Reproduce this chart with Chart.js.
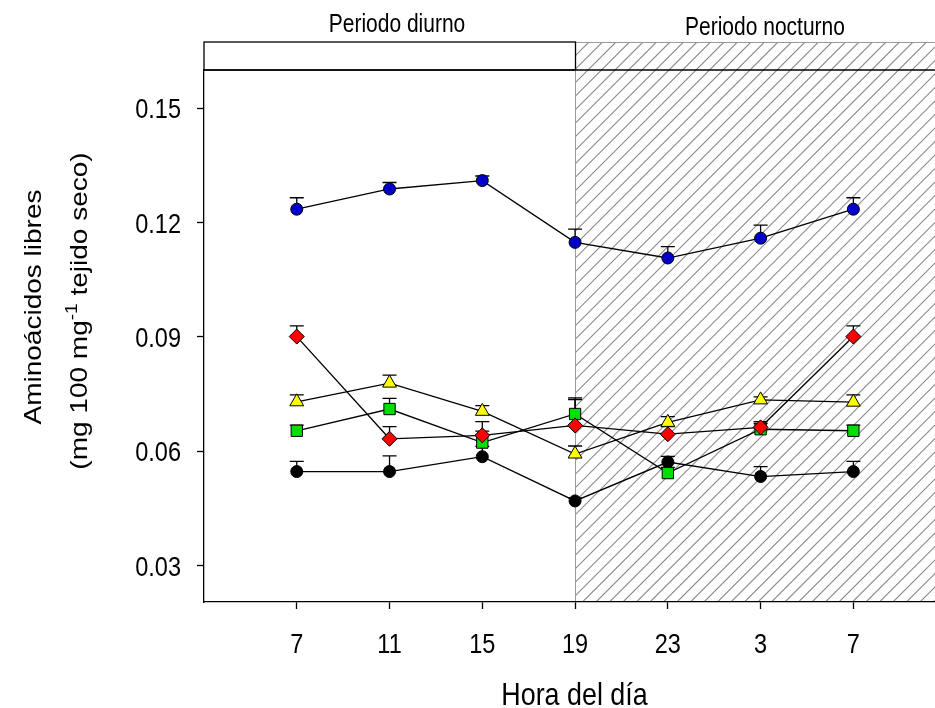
<!DOCTYPE html>
<html>
<head>
<meta charset="utf-8">
<script src="https://cdn.jsdelivr.net/npm/chart.js@4/dist/chart.umd.min.js"></script>
<style>
  html, body { margin: 0; padding: 0; background: #fff; overflow: hidden; }
  canvas { display: block; }
</style>
</head>
<body>
<canvas id="grafico" width="935" height="708"></canvas>
<script>
// valores
const horas = ['7', '11', '15', '19', '23', '3', '7'];
const azul     = [0.1235, 0.1288, 0.1310, 0.1148, 0.1107, 0.1159, 0.1235];
const azulErr  = [0.0030, 0.0017, 0.0012, 0.0035, 0.0030, 0.0034, 0.0030];
const amarillo    = [0.0730, 0.0779, 0.0705, 0.0593, 0.0676, 0.0735, 0.0729];
const amarilloErr = [0.0018, 0.0021, 0.0015, 0.0021, 0.0015, 0.0008, 0.0019];
const rojo     = [0.0901, 0.0633, 0.0642, 0.0668, 0.0645, 0.0663, 0.0901];
const rojoErr  = [0.0028, 0.0032, 0.0036, 0.0068, 0.0020, 0.0015, 0.0028];
const verde    = [0.0654, 0.0711, 0.0623, 0.0698, 0.0543, 0.0658, 0.0654];
const verdeErr = [0.0015, 0.0028, 0.0030, 0.0042, 0.0015, 0.0015, 0.0015];
const negro    = [0.0547, 0.0547, 0.0586, 0.0470, 0.0572, 0.0534, 0.0547];
const negroErr = [0.0027, 0.0041, 0.0027, 0.0008, 0.0015, 0.0026, 0.0027];
const yTicks = [0.03, 0.06, 0.09, 0.12, 0.15];

const FUENTE = "'Liberation Sans', Arial, sans-serif";
const ESTRECHO = 0.84; // la figura original esta comprimida en horizontal

function serie(valores, errores, color, estilo, radio) {
    return {
        data: valores.map((v, i) => ({ x: i, y: v })),
        errores: errores,
        borderColor: '#000',
        borderWidth: 1.3,
        backgroundColor: color,
        pointBackgroundColor: color,
        pointBorderColor: '#000',
        pointBorderWidth: 1,
        pointStyle: estilo,
        pointRadius: radio,
        pointHoverRadius: radio,
        tension: 0
    };
}

// texto comprimido (sx, sy en el sistema del texto)
function texto(ctx, s, x, y, tam, alin, sx, sy) {
    sx = sx === undefined ? ESTRECHO : sx;
    sy = sy === undefined ? 1 : sy;
    ctx.save();
    ctx.font = tam + 'px ' + FUENTE;
    const w = ctx.measureText(s).width * sx;
    let x0 = x;
    if (alin === 'center') x0 = x - w / 2;
    if (alin === 'right') x0 = x - w;
    ctx.translate(x0, y);
    ctx.scale(sx, sy);
    ctx.textAlign = 'left';
    ctx.textBaseline = 'alphabetic';
    ctx.fillText(s, 0, 0);
    ctx.restore();
}

// fondo, franja superior y zona rayada (noche)
const fondo = {
    id: 'fondo',
    beforeDraw(chart) {
        const ctx = chart.ctx;
        const area = chart.chartArea;
        const xs = chart.scales.x;
        const xNoche = Math.round(xs.getPixelForValue(3)) + 0.5;
        const arriba = 42;
        ctx.save();
        ctx.fillStyle = '#fff';
        ctx.fillRect(0, 0, chart.width, chart.height);

        // rayado
        ctx.beginPath();
        ctx.rect(xNoche, arriba, area.right - xNoche, area.bottom - arriba);
        ctx.clip();
        ctx.strokeStyle = '#8c8c8c';
        ctx.lineWidth = 1.1;
        const alto = area.bottom - arriba;
        ctx.beginPath();
        for (let x = xNoche - alto; x < area.right + 20; x += 13.5) {
            ctx.moveTo(x, area.bottom);
            ctx.lineTo(x + alto, arriba);
        }
        ctx.stroke();
        ctx.restore();

        ctx.save();
        ctx.strokeStyle = '#9a9a9a';
        ctx.lineWidth = 1;
        ctx.beginPath();
        ctx.moveTo(xNoche, arriba + 0.5);
        ctx.lineTo(area.right, arriba + 0.5);
        ctx.moveTo(xNoche, area.top);
        ctx.lineTo(xNoche, area.bottom);
        ctx.stroke();

        ctx.strokeStyle = '#000';
        ctx.lineWidth = 1.3;
        ctx.strokeRect(area.left, arriba, xNoche - area.left, area.top - arriba);
        ctx.beginPath();
        ctx.moveTo(area.left, area.top);
        ctx.lineTo(area.right, area.top);
        ctx.stroke();

        ctx.fillStyle = '#000';
        texto(ctx, 'Periodo diurno', 397, 32, 25, 'center');
        texto(ctx, 'Periodo nocturno', 765, 35, 25, 'center');
        ctx.restore();
    }
};

// barras de error (solo hacia arriba)
const barrasError = {
    id: 'barrasError',
    beforeDatasetsDraw(chart) {
        const ctx = chart.ctx;
        const ys = chart.scales.y;
        ctx.save();
        ctx.strokeStyle = '#000';
        ctx.lineWidth = 1.3;
        chart.data.datasets.forEach((ds, i) => {
            const meta = chart.getDatasetMeta(i);
            meta.data.forEach((p, j) => {
                const yTope = ys.getPixelForValue(ds.data[j].y + ds.errores[j]);
                ctx.beginPath();
                ctx.moveTo(p.x, p.y);
                ctx.lineTo(p.x, yTope);
                ctx.moveTo(p.x - 7, yTope);
                ctx.lineTo(p.x + 7, yTope);
                ctx.stroke();
            });
        });
        ctx.restore();
    }
};

// etiquetas de las marcas y titulos de los ejes
const titulos = {
    id: 'titulos',
    afterDraw(chart) {
        const ctx = chart.ctx;
        const area = chart.chartArea;
        const xs = chart.scales.x;
        const ys = chart.scales.y;
        ctx.save();
        ctx.fillStyle = '#000';

        xs.ticks.forEach(t => {
            texto(ctx, horas[t.value], xs.getPixelForValue(t.value), 653, 28, 'center');
        });
        ys.ticks.forEach(t => {
            texto(ctx, t.value.toFixed(2), area.left - 23, ys.getPixelForValue(t.value) + 10, 28, 'right');
        });

        texto(ctx, 'Hora del día', (area.left + area.right) / 2 + 5, 705, 32, 'center');

        // titulo vertical: la compresion afecta al alto de las letras
        ctx.rotate(-Math.PI / 2);
        texto(ctx, 'Aminoácidos libres', -307, 41, 28, 'center', 1, ESTRECHO);
        const partes = [['(mg 100 mg', 28, 0], ['-1', 19, -12], [' tejido seco)', 28, 0]];
        let total = 0;
        partes.forEach(p => { ctx.font = p[1] + 'px ' + FUENTE; total += ctx.measureText(p[0]).width; });
        let x = -311 - total / 2;
        partes.forEach(p => {
            texto(ctx, p[0], x, 87 + p[2] * ESTRECHO, p[1], 'left', 1, ESTRECHO);
            ctx.font = p[1] + 'px ' + FUENTE;
            x += ctx.measureText(p[0]).width;
        });
        ctx.restore();
    }
};

const ctx = document.getElementById('grafico').getContext('2d');

new Chart(ctx, {
    type: 'line',
    data: {
        datasets: [
            serie(azul, azulErr, '#0000c8', 'circle', 6),
            serie(amarillo, amarilloErr, '#ffff00', 'triangle', 8),
            serie(rojo, rojoErr, '#ff0000', 'rectRot', 7.5),
            serie(verde, verdeErr, '#00e000', 'rect', 8),
            serie(negro, negroErr, '#000000', 'circle', 6)
        ]
    },
    options: {
        responsive: false,
        devicePixelRatio: 1,
        animation: false,
        layout: { autoPadding: false, padding: { top: 70, left: 0, right: 0, bottom: 0 } },
        plugins: {
            legend: { display: false },
            tooltip: { enabled: false }
        },
        scales: {
            x: {
                type: 'linear',
                min: -1,
                max: 6.88,
                afterBuildTicks: (s) => { s.ticks = horas.map((h, i) => ({ value: i })); },
                afterFit: (s) => { s.height = 106; },
                grid: { drawOnChartArea: false, drawTicks: true, tickLength: 7, tickColor: '#000', tickWidth: 1.3 },
                border: { display: true, color: '#000', width: 1.3 },
                ticks: { display: false }
            },
            y: {
                min: 0.0205,
                max: 0.16,
                afterBuildTicks: (s) => { s.ticks = yTicks.map(v => ({ value: v })); },
                afterFit: (s) => { s.width = 204; },
                grid: { drawOnChartArea: false, drawTicks: true, tickLength: 7, tickColor: '#000', tickWidth: 1.3 },
                border: { display: true, color: '#000', width: 1.3 },
                ticks: { display: false }
            }
        }
    },
    plugins: [fondo, barrasError, titulos]
});
</script>
</body>
</html>
